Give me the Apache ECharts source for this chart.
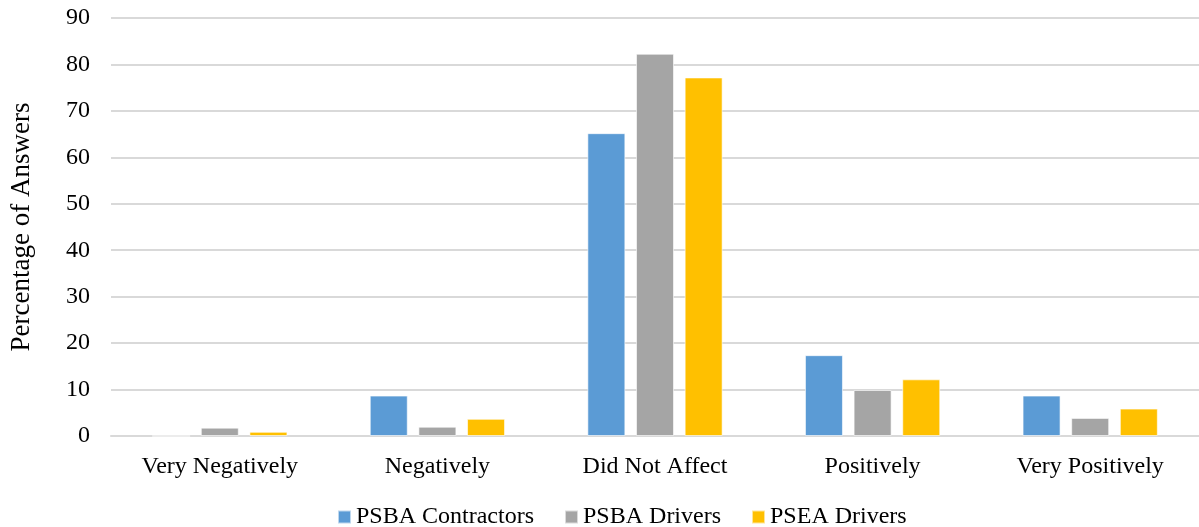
<!DOCTYPE html>
<html>
<head>
<meta charset="utf-8">
<script src="https://cdn.jsdelivr.net/npm/echarts@6/dist/echarts.min.js"></script>
<style>
  html, body { margin: 0; padding: 0; background: #fff; }
  #chart { width: 1199px; height: 527px; }
</style>
</head>
<body>
<div id="chart"></div>
<script>
var categories = ['Very Negatively', 'Negatively', 'Did Not Affect', 'Positively', 'Very Positively'];
var psbaContractors = [0, 8.7, 65.2, 17.4, 8.7];
var psbaDrivers = [1.8, 2.0, 82.3, 9.9, 3.9];
var pseaDrivers = [0.9, 3.7, 77.2, 12.2, 5.9];

var font = '"Liberation Serif", "Times New Roman", serif';
var myChart = echarts.init(document.getElementById('chart'));

function bar(name, data, color) {
    return {
        name: name,
        type: 'bar',
        data: data,
        barWidth: 38,
        barGap: '28%',
        itemStyle: { color: color, borderColor: 'rgba(255,255,255,0.6)', borderWidth: 1 }
    };
}

var option = {
    animation: false,
    textStyle: { fontFamily: font },
    grid: { left: 107, right: 0, top: 18, bottom: 91 },
    legend: {
        top: 500,
        left: 332,
        itemWidth: 13,
        itemHeight: 13,
        itemGap: 30,
        icon: 'rect',
        textStyle: { fontFamily: font, fontSize: 24, color: '#000' },
        data: ['PSBA Contractors', 'PSBA Drivers', 'PSEA Drivers']
    },
    xAxis: {
        type: 'category',
        data: categories,
        axisLine: { lineStyle: { color: '#d9d9d9', width: 2 } },
        axisTick: { show: false },
        axisLabel: { fontFamily: font, fontSize: 24, color: '#000', margin: 19 }
    },
    yAxis: {
        type: 'value',
        min: 0,
        max: 90,
        interval: 10,
        name: 'Percentage of Answers',
        nameLocation: 'middle',
        nameGap: 76,
        nameTextStyle: { fontFamily: font, fontSize: 27, color: '#000' },
        axisLabel: { fontFamily: font, fontSize: 24, color: '#000', margin: 21 },
        splitLine: { lineStyle: { color: '#d9d9d9', width: 2 } },
        axisLine: { show: false },
        axisTick: { show: false }
    },
    series: [
        bar('PSBA Contractors', psbaContractors, '#5b9bd5'),
        bar('PSBA Drivers', psbaDrivers, '#a5a5a5'),
        bar('PSEA Drivers', pseaDrivers, '#ffc000')
    ]
};
myChart.setOption(option);
</script>
</body>
</html>
